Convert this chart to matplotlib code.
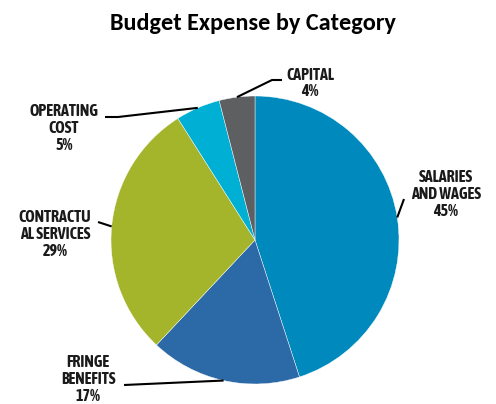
import numpy as np
import matplotlib
matplotlib.use("Agg")
import matplotlib.pyplot as plt

# donnees du graphique
categories = ["SALARIES\nAND WAGES", "FRINGE\nBENEFITS", "CONTRACTU\nAL SERVICES",
              "OPERATING\nCOST", "CAPITAL"]
valeurs = [45, 17, 29, 5, 4]
couleurs = ["#0089bd", "#2c69a7", "#a5b52b", "#00afd4", "#5e5f61"]

W, H = 496, 404
fig = plt.figure(figsize=(W / 100, H / 100), dpi=100)
ax = fig.add_axes([0, 0, 1, 1])

cx, cy, r = 255, H - 240, 144
wedges, _ = ax.pie(valeurs, colors=couleurs, startangle=90, counterclock=False,
                   center=(cx, cy), radius=r, frame=True,
                   wedgeprops=dict(linewidth=0.3, edgecolor="white"))
ax.set_xlim(0, W)
ax.set_ylim(0, H)
ax.set_aspect("equal")
ax.axis("off")

police = ["Liberation Sans Narrow", "Asap Condensed", "DejaVu Sans"]

# position du texte (pixels) et coude du trait
textes = [(446, 194), (88, 379), (55, 234), (64, 128), (310, 83)]
coudes = [[(404, 199)], [(124, 385)], [(98, 222)], [(118, 117), (105, 117)],
          [(272, 80), (282, 80)]]

total = sum(valeurs)
for i, w in enumerate(wedges):
    pct = valeurs[i] / total * 100
    tx, ty = textes[i]
    ax.text(tx, H - ty, f"{categories[i]}\n{pct:.0f}%", ha="center", va="center",
            fontsize=11.5, fontweight="bold", fontstretch="condensed", family=police,
            color="#1a1a1a", linespacing=1.05)
    a = np.deg2rad((w.theta1 + w.theta2) / 2)
    px = [cx + r * np.cos(a)]
    py = [cy + r * np.sin(a)]
    for (x, y) in coudes[i]:
        px.append(x)
        py.append(H - y)
    ax.plot(px, py, color="black", lw=1.5, solid_capstyle="butt")

fig.text(253 / W, 1 - 30 / H, "Budget Expense by Category", ha="center", va="baseline",
         fontsize=17.5, fontweight="bold", family=["Carlito", "Lato", "DejaVu Sans"])

fig.savefig("out.png", dpi=100)
